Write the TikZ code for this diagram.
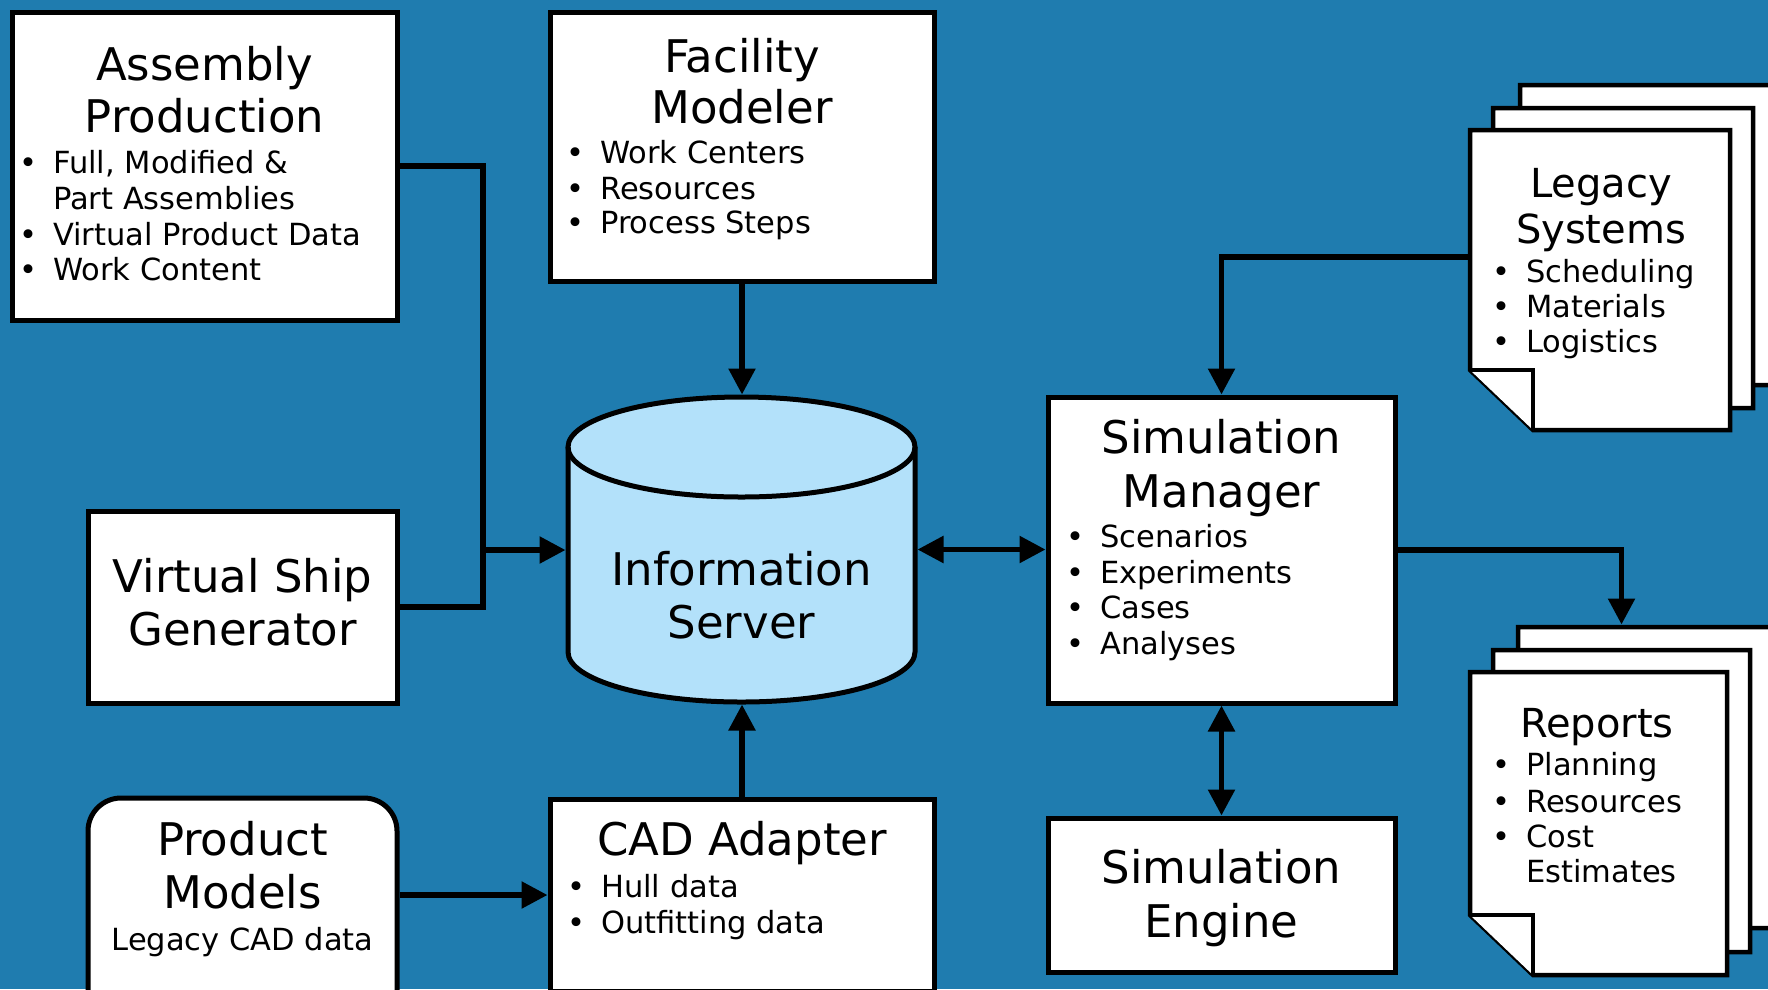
\documentclass[tikz,border=0pt]{standalone}
\usepackage{fontspec}
\setmainfont{DejaVu Sans}
\usetikzlibrary{arrows.meta}
\definecolor{bgblue}{HTML}{1F7CAF}
\definecolor{cylblue}{HTML}{B3E1FA}
\newcommand\tfont{\fontsize{45}{54}\selectfont}
\newcommand\dfont{\fontsize{40}{48}\selectfont}
\newcommand\bfont{\fontsize{30.5}{36}\selectfont}
% title line, centred on base
\newcommand\ttl[4]{\node[anchor=base, font=\tfont, inner sep=0pt] (#1) at (#2,-#3) {#4};}
\newcommand\dttl[4]{\node[anchor=base, font=\dfont, inner sep=0pt] (#1) at (#2,-#3) {#4};}
\newcommand\ptl[4]{\node[anchor=base, font=\bfont, inner sep=0pt] (#1) at (#2,-#3) {#4};}
% bullet line, left edge of text at x
\newcommand\btl[4]{\node[anchor=base west, font=\bfont, inner sep=0pt] (#1) at (#2,-#3) {\llap{\textbullet\hspace{16pt}}#4};}
\newcommand\ctl[4]{\node[anchor=base west, font=\bfont, inner sep=0pt] (#1) at (#2,-#3) {#4};}
% document with folded corner: name, left, top, right, bottom
\newcommand\docsheet[5]{%
  \node[inner sep=0pt, outer sep=2.5pt, minimum width={#4-#2}, minimum height={#5-#3}] (#1) at ({(#2+#4)/2},{-(#3+#5)/2}) {};
  \filldraw[docst] (#2,-#3) -- (#4,-#3) -- (#4,-#5) -- (#2+63,-#5) -- (#2,-#5+60) -- cycle;
  \draw[docst] (#2,-#5+60) -- (#2+63,-#5+60) -- (#2+63,-#5);}
\begin{document}
\begin{tikzpicture}[x=1pt,y=1pt,
  box/.style={draw=black, fill=white, line width=5pt, inner sep=0pt, outer sep=2.5pt},
  conn/.style={line width=5.5pt, draw=black},
  arr/.style={conn, -{Triangle[length=26pt,width=26pt]}},
  darr/.style={conn, {Triangle[length=26pt,width=26pt]}-{Triangle[length=26pt,width=26pt]}},
  docst/.style={fill=white, draw=black, line width=4.5pt, line join=miter}]
\useasboundingbox (0,0) rectangle (1768,-989);
\fill[bgblue] (0,0) rectangle (1768,-989);
\begin{scope}
\clip (0,0) rectangle (1768,-989);

% boxes
\node[box, minimum width=385, minimum height=308] (ap) at (204.5,-166) {};
\node[box, minimum width=384, minimum height=269] (fm) at (742,-146.5) {};
\node[box, minimum width=309, minimum height=192] (vsg) at (242.5,-607) {};
\node[box, rounded corners=33pt, minimum width=309, minimum height=244] (pm) at (242.5,-920) {};
\node[box, minimum width=384, minimum height=192] (cad) at (742,-895) {};
\node[box, minimum width=347, minimum height=306] (sm) at (1221.5,-550) {};
\node[box, minimum width=347, minimum height=154] (se) at (1221.5,-895) {};

% cylinder
\node[inner sep=0pt, outer sep=2.5pt, minimum width=347, minimum height=305] (is) at (741.5,-549.5) {};
\fill[cylblue] (568,-447) -- (568,-652) arc[start angle=180, end angle=360, x radius=173.5, y radius=50] -- (915,-447) arc[start angle=0, end angle=180, x radius=173.5, y radius=50] -- cycle;
\draw[line width=5pt] (568,-447) -- (568,-652) arc[start angle=180, end angle=360, x radius=173.5, y radius=50] -- (915,-447);
\draw[line width=5pt] (741.5,-447) ellipse[x radius=173.5, y radius=50];

% documents
\docsheet{lgb}{1520}{85}{1780}{385}
\docsheet{lgm}{1493}{108}{1753}{408}
\docsheet{lgf}{1470}{130}{1730}{430}
\docsheet{rpb}{1518}{627}{1775}{928}
\docsheet{rpm}{1493}{650}{1750}{952}
\docsheet{rpf}{1470}{672}{1727}{975}

% connectors
\coordinate (j) at (483,-550);
\draw[conn] (ap.east) -| (j);
\draw[conn] (vsg.east) -| (j);
\draw[arr] (j) -- (j -| is.west);
\draw[arr] (fm.south) -- (fm.south |- is.north);
\draw[arr] (cad.north) -- (cad.north |- is.south);
\draw[arr] (pm.east |- cad.west) -- (cad.west);
\draw[darr] (is.east) -- (is.east -| sm.west);
\draw[arr] ([yshift=23pt]lgf.west) -| (sm.north);
\draw[arr] (sm.east) -| ([xshift=-25pt]rpb.north);
\draw[darr] (sm.south) -- (se.north);

% texts
\ttl{ap1}{204.5}{80}{Assembly}
\ttl{ap2}{204.5}{132}{Production}
\btl{ap3}{53}{173}{Full, Modified \&}
\ctl{ap4}{53}{209}{Part Assemblies}
\btl{ap5}{53}{245}{Virtual Product Data}
\btl{ap6}{53}{280}{Work Content}

\ttl{fm1}{742}{72}{Facility}
\ttl{fm2}{742}{123}{Modeler}
\btl{fm3}{600}{163}{Work Centers}
\btl{fm4}{600}{199}{Resources}
\btl{fm5}{600}{233}{Process Steps}

\ttl{vs1}{242.5}{592}{Virtual Ship}
\ttl{vs2}{242.5}{645}{Generator}

\ttl{pm1}{242.5}{855}{Product}
\ttl{pm2}{242.5}{908}{Models}
\ptl{pm3}{242.5}{950}{Legacy CAD data}

\ttl{is1}{741.5}{585}{Information}
\ttl{is2}{741.5}{638}{Server}

\ttl{cd1}{742}{855}{CAD Adapter}
\btl{cd2}{601}{897}{Hull data}
\btl{cd3}{601}{933}{Outfitting data}

\ttl{sm1}{1221.5}{453}{Simulation}
\ttl{sm2}{1221.5}{507}{Manager}
\btl{sm3}{1100}{547}{Scenarios}
\btl{sm4}{1100}{583}{Experiments}
\btl{sm5}{1100}{618}{Cases}
\btl{sm6}{1100}{654}{Analyses}

\ttl{se1}{1221.5}{883}{Simulation}
\ttl{se2}{1221.5}{937}{Engine}

\dttl{lg1}{1601}{197}{Legacy}
\dttl{lg2}{1601}{243}{Systems}
\btl{lg3}{1526}{282}{Scheduling}
\btl{lg4}{1526}{317}{Materials}
\btl{lg5}{1526}{352}{Logistics}

\dttl{rp1}{1597}{737}{Reports}
\btl{rp2}{1526}{775}{Planning}
\btl{rp3}{1526}{812}{Resources}
\btl{rp4}{1526}{847}{Cost}
\ctl{rp5}{1526}{882}{Estimates}
\end{scope}
\end{tikzpicture}
\end{document}
